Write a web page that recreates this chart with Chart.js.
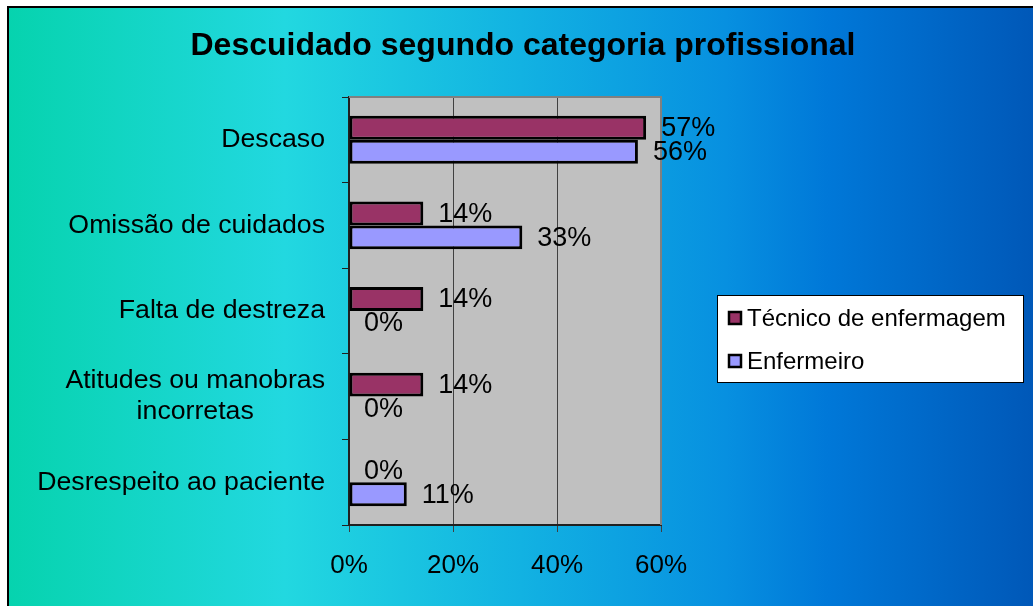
<!DOCTYPE html>
<html>
<head>
<meta charset="utf-8">
<script src="https://cdn.jsdelivr.net/npm/chart.js@4.4.0/dist/chart.umd.min.js"></script>
<style>
  html, body { margin: 0; padding: 0; background: #fff; }
  #wrap { width: 1033px; height: 606px; }
</style>
</head>
<body>
<div id="wrap"><canvas id="chart" width="1033" height="606"></canvas></div>
<script>
// Data
const categories = [
    'Descaso',
    'Omissão de cuidados',
    'Falta de destreza',
    ['Atitudes ou manobras', 'incorretas'],
    'Desrespeito ao paciente'
];
const tecnicoValues = [57.14, 14.29, 14.29, 14.29, 0];
const enfermeiroValues = [55.56, 33.33, 0, 0, 11.11];
const seriesNames = ['Técnico de enfermagem', 'Enfermeiro'];
const xTicks = [0, 20, 40, 60];

const FONT = '"Liberation Sans", Arial, sans-serif';

// Background gradient + outer frame
const backgroundPlugin = {
    id: 'background',
    beforeDraw(chart) {
        const ctx = chart.ctx;
        ctx.save();
        ctx.fillStyle = '#ffffff';
        ctx.fillRect(0, 0, chart.width, chart.height);
        const g = ctx.createLinearGradient(8, 0, chart.width, 0);
        g.addColorStop(0, '#06d3ae');
        g.addColorStop(0.27, '#22d8e0');
        g.addColorStop(0.5, '#12b2e2');
        g.addColorStop(0.7, '#0790e0');
        g.addColorStop(0.8, '#0078d8');
        g.addColorStop(1, '#0058b8');
        ctx.fillStyle = g;
        ctx.fillRect(8, 7, chart.width - 8, chart.height - 7);
        ctx.strokeStyle = '#000';
        ctx.lineWidth = 2;
        ctx.beginPath();
        ctx.moveTo(8, chart.height);
        ctx.lineTo(8, 7);
        ctx.lineTo(chart.width, 7);
        ctx.stroke();

        // plot area fill
        const a = chart.chartArea;
        ctx.fillStyle = '#c0c0c0';
        ctx.fillRect(a.left, a.top, a.right - a.left, a.bottom - a.top);
        ctx.restore();
    },
    beforeDatasetsDraw(chart) {
        // gray border on top and right of the plot area
        const ctx = chart.ctx;
        const a = chart.chartArea;
        ctx.save();
        ctx.strokeStyle = '#808080';
        ctx.lineWidth = 2;
        ctx.beginPath();
        ctx.moveTo(a.left, a.top);
        ctx.lineTo(a.right, a.top);
        ctx.lineTo(a.right, a.bottom);
        ctx.stroke();
        ctx.restore();
    }
};

// Title, category labels, value labels, legend
const textPlugin = {
    id: 'texts',
    afterDraw(chart) {
        const ctx = chart.ctx;
        ctx.save();
        ctx.fillStyle = '#000';

        // title
        ctx.font = 'bold 32px ' + FONT;
        ctx.textAlign = 'center';
        ctx.textBaseline = 'middle';
        ctx.fillText('Descuidado segundo categoria profissional', 523, 46);

        // category labels (block right aligned, lines centered)
        const yScale = chart.scales.y;
        ctx.font = '26.7px ' + FONT;
        const right = yScale.right - 24;
        categories.forEach((label, i) => {
            const lines = Array.isArray(label) ? label : [label];
            const widest = Math.max(...lines.map(l => ctx.measureText(l).width));
            const cy = yScale.getPixelForTick(i);
            const lh = 31;
            lines.forEach((l, j) => {
                const y = cy + (j - (lines.length - 1) / 2) * lh;
                ctx.fillText(l, right - widest / 2, y);
            });
        });

        // value labels
        ctx.textAlign = 'left';
        ctx.font = '27px ' + FONT;
        chart.data.datasets.forEach((ds, di) => {
            const meta = chart.getDatasetMeta(di);
            meta.data.forEach((bar, i) => {
                ctx.fillText(Math.round(ds.data[i]) + '%', bar.x + 15, bar.y + 1);
            });
        });

        // legend
        const lx = 717, ly = 295, lw = 306, lh = 87;
        ctx.fillStyle = '#fff';
        ctx.fillRect(lx, ly, lw, lh);
        ctx.strokeStyle = '#000';
        ctx.lineWidth = 1;
        ctx.strokeRect(lx + 0.5, ly + 0.5, lw, lh);
        ctx.font = '24px ' + FONT;
        const rows = [318, 361];
        chart.data.datasets.forEach((ds, di) => {
            const y = rows[di];
            ctx.fillStyle = ds.backgroundColor;
            ctx.fillRect(729, y - 6, 12, 12);
            ctx.lineWidth = 2.5;
            ctx.strokeStyle = '#000';
            ctx.strokeRect(729, y - 6, 12, 12);
            ctx.fillStyle = '#000';
            ctx.fillText(ds.label, 747, y + 1);
        });
        ctx.restore();
    }
};

new Chart(document.getElementById('chart'), {
    type: 'bar',
    data: {
        labels: categories,
        datasets: [
            {
                label: seriesNames[0],
                data: tecnicoValues,
                backgroundColor: '#993366',
                borderColor: '#000',
                borderWidth: 3,
                borderSkipped: false
            },
            {
                label: seriesNames[1],
                data: enfermeiroValues,
                backgroundColor: '#9999ff',
                borderColor: '#000',
                borderWidth: 3,
                borderSkipped: false
            }
        ]
    },
    options: {
        indexAxis: 'y',
        responsive: false,
        animation: false,
        devicePixelRatio: 1,
        categoryPercentage: 0.56,
        barPercentage: 1,
        layout: { padding: { left: 0, right: 372, top: 97, bottom: 0 } },
        plugins: {
            legend: { display: false },
            title: { display: false },
            tooltip: { enabled: false }
        },
        scales: {
            x: {
                min: 0,
                max: 60,
                afterBuildTicks(scale) {
                    scale.ticks = xTicks.map(v => ({ value: v }));
                },
                afterFit(scale) { scale.height = 81; },
                ticks: {
                    callback: v => v + '%',
                    color: '#000',
                    font: { size: 26, family: FONT },
                    padding: 18,
                    maxRotation: 0
                },
                grid: {
                    color: ctx => (ctx.index === 0 || ctx.index === xTicks.length - 1) ? 'rgba(0,0,0,0)' : '#404040',
                    tickColor: '#404040',
                    tickLength: 7,
                    lineWidth: 1
                },
                border: { color: '#202020', width: 2 }
            },
            y: {
                afterFit(scale) { scale.width = 349; },
                ticks: { display: false },
                grid: {
                    offset: true,
                    drawOnChartArea: false,
                    tickColor: '#202020',
                    tickLength: 7
                },
                border: { color: '#202020', width: 2 }
            }
        }
    },
    plugins: [backgroundPlugin, textPlugin]
});
</script>
</body>
</html>
